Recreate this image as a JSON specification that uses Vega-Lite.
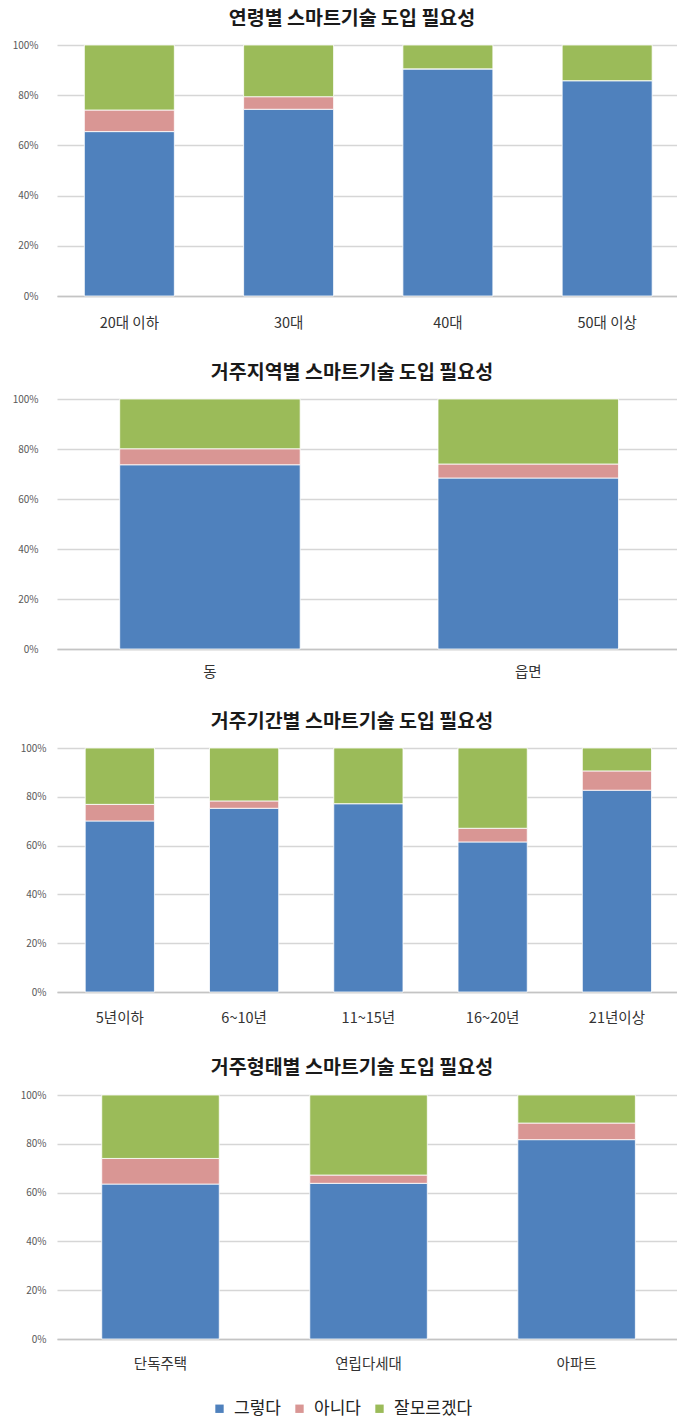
{
  "$schema": "https://vega.github.io/schema/vega-lite/v6.json",
  "padding": {"left": 12, "top": 8, "right": 0, "bottom": 12},
  "background": "#ffffff",
  "spacing": 32,
  "datasets": {
    "age": [
      {"group": "20대 이하", "resp": "그렇다", "value": 65.5},
      {"group": "20대 이하", "resp": "아니다", "value": 8.6},
      {"group": "20대 이하", "resp": "잘모르겠다", "value": 25.9},
      {"group": "30대", "resp": "그렇다", "value": 74.4},
      {"group": "30대", "resp": "아니다", "value": 5.0},
      {"group": "30대", "resp": "잘모르겠다", "value": 20.6},
      {"group": "40대", "resp": "그렇다", "value": 90.5},
      {"group": "40대", "resp": "아니다", "value": 0},
      {"group": "40대", "resp": "잘모르겠다", "value": 9.5},
      {"group": "50대 이상", "resp": "그렇다", "value": 85.8},
      {"group": "50대 이상", "resp": "아니다", "value": 0},
      {"group": "50대 이상", "resp": "잘모르겠다", "value": 14.2}
    ],
    "region": [
      {"group": "동", "resp": "그렇다", "value": 73.7},
      {"group": "동", "resp": "아니다", "value": 6.4},
      {"group": "동", "resp": "잘모르겠다", "value": 19.9},
      {"group": "읍면", "resp": "그렇다", "value": 68.4},
      {"group": "읍면", "resp": "아니다", "value": 5.6},
      {"group": "읍면", "resp": "잘모르겠다", "value": 26.0}
    ],
    "period": [
      {"group": "5년이하", "resp": "그렇다", "value": 70.1},
      {"group": "5년이하", "resp": "아니다", "value": 6.8},
      {"group": "5년이하", "resp": "잘모르겠다", "value": 23.1},
      {"group": "6~10년", "resp": "그렇다", "value": 75.3},
      {"group": "6~10년", "resp": "아니다", "value": 3.0},
      {"group": "6~10년", "resp": "잘모르겠다", "value": 21.7},
      {"group": "11~15년", "resp": "그렇다", "value": 77.2},
      {"group": "11~15년", "resp": "아니다", "value": 0},
      {"group": "11~15년", "resp": "잘모르겠다", "value": 22.8},
      {"group": "16~20년", "resp": "그렇다", "value": 61.5},
      {"group": "16~20년", "resp": "아니다", "value": 5.6},
      {"group": "16~20년", "resp": "잘모르겠다", "value": 32.9},
      {"group": "21년이상", "resp": "그렇다", "value": 82.7},
      {"group": "21년이상", "resp": "아니다", "value": 7.9},
      {"group": "21년이상", "resp": "잘모르겠다", "value": 9.4}
    ],
    "housing": [
      {"group": "단독주택", "resp": "그렇다", "value": 63.5},
      {"group": "단독주택", "resp": "아니다", "value": 10.5},
      {"group": "단독주택", "resp": "잘모르겠다", "value": 26.0},
      {"group": "연립다세대", "resp": "그렇다", "value": 63.8},
      {"group": "연립다세대", "resp": "아니다", "value": 3.4},
      {"group": "연립다세대", "resp": "잘모르겠다", "value": 32.8},
      {"group": "아파트", "resp": "그렇다", "value": 81.7},
      {"group": "아파트", "resp": "아니다", "value": 6.8},
      {"group": "아파트", "resp": "잘모르겠다", "value": 11.5}
    ]
  },
  "config": {
    "font": "Noto Sans CJK KR",
    "view": {"stroke": null},
    "axisY": {
      "grid": true, "gridColor": "#d6d6d6", "gridWidth": 1.5,
      "domain": false, "ticks": false, "tickSize": 0,
      "labelFontSize": 10, "labelColor": "#595959", "labelPadding": 11,
      "minExtent": 44,
      "title": null, "values": [0, 0.2, 0.4, 0.6, 0.8, 1], "format": ".0%"
    },
    "axisX": {
      "grid": false, "domain": true, "domainColor": "#c4c4c4", "domainWidth": 1.5,
      "ticks": false, "tickSize": 0, "labelAngle": 0,
      "labelFontSize": 14.5, "labelColor": "#333333", "labelPadding": 18,
      "title": null
    },
    "title": {"fontSize": 19.5, "fontWeight": "bold", "color": "#1a1a1a", "anchor": "middle", "frame": "group", "offset": 11, "dx": -15.5},
    "legend": {
      "orient": "none", "direction": "horizontal", "title": null,
      "labelFontSize": 17, "labelColor": "#222222", "symbolType": "square",
      "symbolSize": 70, "symbolStrokeWidth": 0, "labelOffset": 6, "columnPadding": 10, "padding": 0
    }
  },
  "vconcat": [
    {
      "title": {"text": "연령별 스마트기술 도입 필요성"},
      "width": 621, "height": 251,
      "data": {"name": "age"},
      "mark": {"type": "bar", "stroke": "#ffffff", "strokeWidth": 0.8},
      "encoding": {
        "x": {"field": "group", "type": "nominal", "sort": null,
              "scale": {"paddingInner": 0.435, "paddingOuter": 0.167, "align": 0.514},
              "axis": {"labelPadding": 20}},
        "y": {"field": "value", "type": "quantitative", "stack": "normalize", "scale": {"domain": [0, 1], "nice": false},
              "axis": {"labelPadding": 19}},
        "color": {"field": "resp", "type": "nominal",
                  "scale": {"domain": ["그렇다", "아니다", "잘모르겠다"], "range": ["#4f81bd", "#d99694", "#9bbb59"]},
                  "legend": {"legendX": 154, "legendY": 1355}},
        "order": {"field": "resp", "sort": "ascending"}
      }
    },
    {
      "title": {"text": "거주지역별 스마트기술 도입 필요성"},
      "width": 621, "height": 250,
      "data": {"name": "region"},
      "mark": {"type": "bar", "stroke": "#ffffff", "strokeWidth": 0.8},
      "encoding": {
        "x": {"field": "group", "type": "nominal", "sort": null,
              "scale": {"paddingInner": 0.433, "paddingOuter": 0.192, "align": 0.513},
              "axis": {"labelPadding": 16}},
        "y": {"field": "value", "type": "quantitative", "stack": "normalize", "scale": {"domain": [0, 1], "nice": false},
              "axis": {"labelPadding": 19}},
        "color": {"field": "resp", "type": "nominal",
                  "scale": {"domain": ["그렇다", "아니다", "잘모르겠다"], "range": ["#4f81bd", "#d99694", "#9bbb59"]},
                  "legend": {"legendX": 154, "legendY": 1355}},
        "order": {"field": "resp", "sort": "ascending"}
      }
    },
    {
      "title": {"text": "거주기간별 스마트기술 도입 필요성"},
      "width": 621, "height": 244,
      "data": {"name": "period"},
      "mark": {"type": "bar", "stroke": "#ffffff", "strokeWidth": 0.8},
      "encoding": {
        "x": {"field": "group", "type": "nominal", "sort": null,
              "scale": {"paddingInner": 0.443, "paddingOuter": 0.22, "align": 0.516},
              "axis": {"labelPadding": 19}},
        "y": {"field": "value", "type": "quantitative", "stack": "normalize", "scale": {"domain": [0, 1], "nice": false}},
        "color": {"field": "resp", "type": "nominal",
                  "scale": {"domain": ["그렇다", "아니다", "잘모르겠다"], "range": ["#4f81bd", "#d99694", "#9bbb59"]},
                  "legend": {"legendX": 154, "legendY": 1355}},
        "order": {"field": "resp", "sort": "ascending"}
      }
    },
    {
      "title": {"text": "거주형태별 스마트기술 도입 필요성", "offset": 12},
      "width": 621, "height": 244,
      "data": {"name": "housing"},
      "mark": {"type": "bar", "stroke": "#ffffff", "strokeWidth": 0.8},
      "encoding": {
        "x": {"field": "group", "type": "nominal", "sort": null,
              "scale": {"paddingInner": 0.435, "paddingOuter": 0.21, "align": 0.512}},
        "y": {"field": "value", "type": "quantitative", "stack": "normalize", "scale": {"domain": [0, 1], "nice": false}},
        "color": {"field": "resp", "type": "nominal",
                  "scale": {"domain": ["그렇다", "아니다", "잘모르겠다"], "range": ["#4f81bd", "#d99694", "#9bbb59"]},
                  "legend": {"legendX": 154, "legendY": 1355}},
        "order": {"field": "resp", "sort": "ascending"}
      }
    }
  ]
}
